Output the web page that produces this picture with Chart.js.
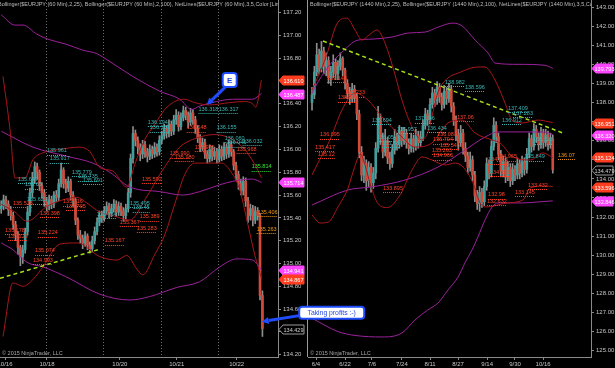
<!DOCTYPE html>
<html>
<head>
<meta charset="utf-8">
<title>EURJPY 60 Min / 1440 Min</title>
<script src="https://cdn.jsdelivr.net/npm/chart.js@4.4.1/dist/chart.umd.min.js"></script>
<style>
  html, body { margin: 0; padding: 0; background: #000; }
  #wrap { position: relative; width: 615px; height: 368px; overflow: hidden; }
  #wrap canvas { position: absolute; left: 0; top: 0; }
  #hourly { z-index: 2; }
  #daily { z-index: 1; }
</style>
</head>
<body>
<div id="wrap">
  <canvas id="daily" width="615" height="368"></canvas>
  <canvas id="hourly" width="615" height="368"></canvas>
</div>
<script>
// ---------- 60 min panel (left) ----------
const hOpen = [
  135.48,135.50,135.56,135.52,135.47,135.42,135.34,135.26,135.14,135.06,
  135.12,135.28,135.45,135.62,135.74,135.85,135.80,135.68,135.62,135.54,
  135.50,135.56,135.52,135.60,135.58,135.70,135.82,135.70,135.66,135.72,
  135.60,135.55,135.38,135.25,135.22,135.18,135.24,135.16,135.13,135.20,
  135.28,135.36,135.42,135.40,135.46,135.50,135.44,135.48,135.52,135.45,
  135.50,135.46,135.42,135.48,135.62,135.92,136.14,136.08,136.02,135.96,
  136.04,135.98,135.94,136.00,135.96,136.02,135.98,136.08,136.12,136.18,
  136.14,136.22,136.16,136.26,136.30,136.20,136.28,136.34,136.30,136.24,
  136.32,136.26,136.18,136.10,136.02,136.06,135.96,135.92,136.00,135.94,
  135.98,135.92,136.00,135.94,136.02,135.96,136.04,135.98,135.86,135.78,
  135.70,135.64,135.72,135.55,135.42,135.48,135.38,135.46,135.42,134.72
];
const hHigh = [
  135.55,135.60,135.59,135.55,135.50,135.45,135.37,135.28,135.16,135.16,
  135.31,135.50,135.66,135.80,135.89,135.88,135.82,135.71,135.65,135.58,
  135.60,135.59,135.63,135.64,135.74,135.88,135.84,135.74,135.76,135.74,
  135.63,135.57,135.40,135.29,135.25,135.28,135.26,135.19,135.24,135.32,
  135.40,135.46,135.46,135.50,135.54,135.53,135.52,135.56,135.55,135.54,
  135.53,135.49,135.52,135.66,135.96,136.20,136.17,136.11,136.05,136.08,
  136.07,136.01,136.04,136.03,136.06,136.05,136.12,136.16,136.22,136.21,
  136.26,136.25,136.30,136.35,136.33,136.32,136.38,136.37,136.33,136.36,
  136.35,136.29,136.21,136.13,136.10,136.09,135.99,136.04,136.03,136.02,
  136.01,136.04,136.03,136.06,136.05,136.08,136.07,136.00,135.89,135.81,
  135.74,135.76,135.75,135.58,135.52,135.51,135.50,135.49,135.44,134.76
];
const hLow = [
  135.44,135.47,135.48,135.42,135.38,135.30,135.20,135.08,134.98,135.00,
  135.09,135.25,135.42,135.58,135.70,135.74,135.64,135.57,135.50,135.46,
  135.47,135.48,135.49,135.54,135.55,135.67,135.66,135.62,135.63,135.56,
  135.50,135.34,135.21,135.18,135.13,135.15,135.12,135.09,135.10,135.17,
  135.25,135.33,135.36,135.37,135.43,135.40,135.41,135.45,135.41,135.42,
  135.42,135.37,135.39,135.45,135.58,135.88,136.03,135.96,135.90,135.92,
  135.93,135.89,135.91,135.92,135.93,135.94,135.95,136.05,136.09,136.10,
  136.11,136.12,136.13,136.22,136.16,136.17,136.25,136.26,136.19,136.21,
  136.22,136.14,136.06,135.98,135.99,135.92,135.88,135.89,135.90,135.91,
  135.88,135.89,135.90,135.91,135.92,135.93,135.94,135.82,135.73,135.65,
  135.60,135.60,135.50,135.36,135.38,135.33,135.35,135.38,134.68,134.36
];
const hClose = [
  135.50,135.56,135.52,135.47,135.42,135.34,135.26,135.14,135.06,135.12,
  135.28,135.45,135.62,135.74,135.85,135.80,135.68,135.62,135.54,135.50,
  135.56,135.52,135.60,135.58,135.70,135.82,135.70,135.66,135.72,135.60,
  135.55,135.38,135.25,135.22,135.18,135.24,135.16,135.13,135.20,135.28,
  135.36,135.42,135.40,135.46,135.50,135.44,135.48,135.52,135.45,135.50,
  135.46,135.42,135.48,135.62,135.92,136.14,136.08,136.02,135.96,136.04,
  135.98,135.94,136.00,135.96,136.02,135.98,136.08,136.12,136.18,136.14,
  136.22,136.16,136.26,136.30,136.20,136.28,136.34,136.30,136.24,136.32,
  136.26,136.18,136.10,136.02,136.06,135.96,135.92,136.00,135.94,135.98,
  135.92,136.00,135.94,136.02,135.96,136.04,135.98,135.86,135.78,135.70,
  135.64,135.72,135.55,135.42,135.48,135.38,135.46,135.42,134.72,134.43
];
const hDateLabels = ['10/16', '10/18', '10/20', '10/21', '10/22'];
const hDateSlots = [1.6, 19.1, 49.5, 73.25, 98.25];
const hSessionBreaks = [18.5, 42.5, 66.5, 90.5];
const hPriceTicks = [134.2, 134.4, 134.6, 134.8, 135.0, 135.2, 135.4, 135.6, 135.8,
  136.0, 136.2, 136.4, 136.6, 136.8, 137.0, 137.2];

const hBB25Upper = [[0.75,136.64],[3.7,136.17],[5.75,135.75],[9.9,135.75],[13.25,135.91],
  [17.4,135.97],[24.5,136.00],[32.8,136.02],[37,135.98],[41.2,135.84],[46.6,135.81],
  [52.4,135.67],[55.75,135.87],[60,136.09],[64.1,136.22],[68.25,136.35],[72.4,136.42],
  [76.6,136.44],[80.75,136.41],[87,136.39],[95.3,136.41],[101.6,136.42],[104.9,136.40],
  [106.2,136.37],[108.6,136.61]];
const hBB25Mid = [[0,135.52],[5.75,135.45],[10.75,135.37],[19.1,135.50],[24.5,135.55],
  [31.6,135.58],[35.75,135.53],[41.2,135.45],[46.6,135.42],[53.7,135.38],[60,135.56],
  [67.4,135.82],[74.5,136.02],[81.6,136.10],[89,136.13],[95.3,136.10],[101.6,136.00],
  [105.75,135.87],[108.6,135.75]];
const hBB25Lower = [[0.75,134.36],[4.9,134.83],[9.1,134.80],[13.25,134.86],[17.4,134.97],
  [24.5,135.17],[31.6,135.18],[41.2,135.06],[48.25,135.03],[52.4,135.07],[56.6,134.95],
  [59.1,134.90],[64.1,135.08],[68.25,135.25],[72.4,135.52],[76.6,135.78],[80.75,135.88],
  [92,135.88],[95.3,135.82],[99.5,135.65],[102,135.43],[105.75,135.08],[108.6,134.87]];
const hBB100Upper = [[0,137.18],[5.75,137.09],[9.1,137.09],[14.9,137.01],[19.1,136.97],
  [27.4,136.92],[34.1,136.87],[39.9,136.84],[42.4,136.81],[54.9,136.64],[66.2,136.51],
  [74.5,136.44],[79.5,136.35],[82.8,136.38],[89.9,136.42],[96.6,136.44],[104.9,136.44],
  [108.6,136.49]];
const hBB100Mid = [[0,136.16],[13.25,136.02],[27.4,135.94],[38.25,135.88],[45.3,135.80],
  [53.7,135.67],[66.2,135.63],[75.75,135.60],[82.8,135.63],[91.2,135.69],[96.6,135.72],
  [104.9,135.74],[108.6,135.71]];
const hBB100Lower = [[0,135.18],[4.9,135.12],[10.75,135.01],[17.4,134.97],[27.4,134.88],
  [41.2,134.73],[53.7,134.68],[62,134.71],[73.25,134.79],[82.8,134.84],[91.2,134.97],
  [98.25,135.04],[104.9,135.03],[107,134.99],[108.6,134.94]];
const hTrend = [[-0.5,134.87],[40.3,135.12]];

const hNetLabels = [
  ['135.961',19.1,135.99,'cyan'],['135.917',20.3,135.92,'cyan'],['135.779',29.5,135.80,'cyan'],
  ['135.735',32,135.76,'cyan'],['135.691',34.1,135.73,'cyan'],['135.649',7,135.74,'cyan'],
  ['135.65',9.9,135.69,'cyan'],['135.622',10.75,135.56,'cyan'],['136.194',61.2,136.24,'cyan'],
  ['136.159',62,136.19,'cyan'],['136.318',82.3,136.35,'cyan'],['136.317',90.75,136.35,'cyan'],
  ['136.155',89.9,136.19,'cyan'],['136.060',93.25,136.10,'cyan'],['136.045',94,136.06,'cyan'],
  ['136.032',100.75,136.07,'cyan'],['135.454',39.9,135.43,'cyan'],['135.495',53.7,135.53,'cyan'],
  ['135.45',54.9,135.49,'cyan'],
  ['135.518',4.9,135.53,'red'],['135.716',25.8,135.54,'red'],['135.705',27,135.50,'red'],
  ['135.398',16.2,135.44,'red'],['135.224',15.3,135.27,'red'],['135.074',14.1,135.11,'red'],
  ['134.993',13.25,135.03,'red'],['135.178',1.6,135.29,'red'],['135.129',2.8,135.24,'red'],
  ['135.167',43.25,135.20,'red'],['135.283',56.6,135.31,'red'],['135.389',57.8,135.41,'red'],
  ['135.367',49.5,135.36,'red'],['135.592',58.7,135.74,'red'],['135.990',70.3,135.96,'red'],
  ['135.980',72.4,135.93,'red'],['135.975',80.75,136.02,'red'],['136.148',77.4,136.19,'red'],
  ['135.968',98.25,136.00,'red'],
  ['135.814',104.5,135.85,'green'],
  ['135.406',107,135.45,'orange'],['135.263',106.6,135.30,'orange']
];
const hTags = [[136.610,'red'],[136.487,'mag'],[135.714,'mag'],[134.941,'mag'],[134.867,'red'],[134.429,'last']];
const hCallouts = [['E',85.75,136.39],['Taking profits :-)',108.7,134.49]];

// ---------- 1440 min panel (right) ----------
const dOpen = [
  138.0,138.4,139.6,140.5,139.8,140.7,139.9,140.2,139.3,139.6,
  140.1,139.5,139.9,140.3,139.7,139.0,138.5,138.2,138.7,138.3,
  137.4,135.4,134.2,134.8,133.9,134.6,133.8,134.3,135.6,137.2,
  136.1,135.4,136.0,135.1,134.8,135.5,136.2,135.8,136.5,136.0,
  136.4,135.9,135.6,136.1,135.7,136.3,135.9,136.2,136.8,137.4,
  137.1,137.9,138.5,138.1,138.8,138.3,137.9,138.6,138.2,138.7,
  137.8,137.1,136.3,135.9,136.4,135.6,135.2,134.6,135.0,134.2,
  133.1,132.7,133.3,132.8,133.6,134.8,134.3,135.7,136.8,136.2,
  135.3,134.4,134.9,134.1,134.6,133.9,134.5,134.2,134.8,134.3,
  134.9,134.5,135.3,136.1,135.7,136.6,136.2,135.8,136.4,135.9,
  136.3,135.8,136.1
];
const dHigh = [
  138.8,139.9,141.1,140.8,141.2,140.9,140.6,140.4,139.9,140.5,
  140.3,140.2,140.6,140.4,139.8,139.2,138.8,139.0,138.9,138.5,
  137.6,135.7,135.2,135.0,134.9,134.8,134.6,135.9,137.8,137.4,
  136.4,136.6,136.2,135.4,135.8,136.6,136.4,136.8,136.7,136.7,
  136.6,136.1,136.4,136.3,136.6,136.5,136.5,137.1,137.7,137.6,
  138.2,138.8,138.7,139.1,139.0,138.5,138.9,138.8,139.0,138.9,
  138.0,137.3,136.6,136.8,136.6,135.9,135.4,135.4,135.2,134.4,
  133.4,133.6,133.5,133.9,135.1,135.0,136.0,137.2,137.0,136.4,
  135.5,135.2,135.1,134.9,134.8,134.8,134.7,135.1,135.0,135.2,
  135.1,135.6,136.4,136.3,136.9,136.8,136.4,136.7,136.6,136.6,
  136.5,136.4,136.3
];
const dLow = [
  137.6,138.2,139.4,139.5,139.6,139.5,139.4,139.0,138.9,139.3,
  139.2,139.2,139.7,139.4,138.7,138.2,137.9,138.0,138.0,137.1,
  135.1,133.9,133.8,133.4,133.6,133.3,133.5,134.0,135.4,135.8,
  135.1,135.2,134.8,134.5,134.6,135.3,135.5,135.6,135.7,135.8,
  135.6,135.3,135.4,135.4,135.5,135.6,135.7,136.0,136.6,136.8,
  136.9,137.7,137.8,137.9,138.0,137.6,137.7,137.9,138.0,137.5,
  136.8,136.0,135.5,135.7,135.3,134.9,134.3,134.4,133.9,132.8,
  132.4,132.3,132.5,132.6,133.4,134.0,134.1,135.5,135.9,135.0,
  134.1,134.1,133.8,133.9,133.6,133.7,133.9,134.0,134.0,134.1,
  134.2,134.3,135.1,135.4,135.5,135.9,135.5,135.6,135.6,135.7,
  135.5,135.6,134.3
];
const dClose = [
  138.4,139.6,140.5,139.8,140.7,139.9,140.2,139.3,139.6,140.1,
  139.5,139.9,140.3,139.7,139.0,138.5,138.2,138.7,138.3,137.4,
  135.4,134.2,134.8,133.9,134.6,133.8,134.3,135.6,137.2,136.1,
  135.4,136.0,135.1,134.8,135.5,136.2,135.8,136.5,136.0,136.4,
  135.9,135.6,136.1,135.7,136.3,135.9,136.2,136.8,137.4,137.1,
  137.9,138.5,138.1,138.8,138.3,137.9,138.6,138.2,138.7,137.8,
  137.1,136.3,135.9,136.4,135.6,135.2,134.6,135.0,134.2,133.1,
  132.7,133.3,132.8,133.6,134.8,134.3,135.7,136.8,136.2,135.3,
  134.4,134.9,134.1,134.6,133.9,134.5,134.2,134.8,134.3,134.9,
  134.5,135.3,136.1,135.7,136.6,136.2,135.8,136.4,135.9,136.3,
  135.8,136.1,134.48
];
const dDateLabels = ['6/4', '6/22', '7/6', '7/24', '8/11', '8/27', '9/14', '9/30', '10/16'];
const dDateSlots = [1.7, 14, 25.4, 38.1, 50, 61.9, 74.2, 86, 97.9];
const dPriceTicks = [125, 126, 127, 128, 129, 130, 131, 132, 133, 134, 135, 136, 137, 138, 139, 140, 141, 142, 143];

const dBB25Upper = [[0,138.65],[5.5,140.23],[11,142.21],[14.8,142.42],[18.2,141.80],[21.2,141.27],
  [24.1,141.53],[27.5,141.80],[30.9,141.12],[35.2,139.44],[38.1,138.13],[42.4,136.72],[46.6,136.04],
  [49.1,136.46],[53.4,138.55],[57.6,139.28],[61.9,139.54],[70.3,139.86],[73.3,139.86],[77.5,139.18],
  [81.8,137.97],[84.7,137.08],[89,136.93],[95.8,137.08],[100,137.0],[102,136.95]];
const dBB25Mid = [[0,134.20],[2.5,134.83],[7.6,136.04],[12.7,137.61],[18.2,138.50],[23.7,138.13],
  [29.7,137.24],[38.1,136.19],[43.6,135.67],[50.8,135.88],[57.6,136.93],[63.6,137.08],[69.1,136.40],
  [76.3,136.04],[79.7,135.88],[85.2,135.15],[92.5,134.99],[97.8,135.36],[102,135.12]];
const dBB25Lower = [[0,132.11],[3.4,131.69],[6.9,131.74],[11,132.53],[15.2,133.5],[18,134.6],
  [20.5,135.3],[22.5,134.7],[25,133.6],[28,132.7],[32,132.5],[37.3,133.16],[42.4,134.47],
  [46.6,135.15],[50.8,134.99],[56.4,134.73],[60.6,134.83],[64,134.62],[68.2,133.79],[71.2,132.74],
  [74.1,132.53],[82.6,132.74],[89.4,132.90],[92.4,133.52],[98.7,133.63],[102,133.60]];
const dBB100Upper = [[0,138.5],[1.3,138.81],[6.8,139.86],[12.3,140.59],[19.5,141.27],[25.4,141.32],
  [33.9,141.43],[40.7,141.64],[47.9,141.69],[53.4,141.95],[59.7,142.16],[63.6,142.01],[69.1,141.27],
  [74.6,140.59],[77.5,140.07],[87.3,140.0],[98.7,139.95],[102,139.79]];
const dBB100Mid = [[0,132.63],[15.2,133.42],[25.4,133.58],[39.4,133.94],[53.4,134.62],[64.8,135.51],
  [73.3,136.19],[78.8,136.46],[90.2,136.46],[98.7,136.45],[102,136.32]];
const dBB100Lower = [[0,126.7],[11,126.0],[18.2,125.8],[29.7,125.72],[38.1,125.93],[43.6,126.61],
  [49.1,127.14],[53.4,127.5],[57.6,128.18],[61.9,128.86],[64.8,129.6],[67.8,130.28],[70.3,130.96],
  [73.3,131.85],[76.3,132.53],[78.8,132.74],[89,132.74],[95.8,132.79],[102,132.85]];
const dTrend = [[4.66,141.22],[106.35,136.40]];

const dNetLabels = [
  ['139.148',6.35,139.28,'red'],['138.233',14,138.50,'red'],['138.205',11,138.24,'red'],
  ['136.095',3.4,136.30,'red'],['135.417',1.3,135.67,'red'],['135.12',2.5,135.30,'red'],
  ['137.06',61.4,137.24,'red'],['136.083',53,136.30,'red'],['135.794',51.3,136.04,'red'],
  ['135.546',54.2,135.77,'red'],['135.263',50.8,135.51,'red'],['134.966',51.3,135.20,'red'],
  ['134.946',74.6,134.99,'red'],['134.965',78.4,135.15,'red'],['134.115',75.4,134.36,'red'],
  ['132.98',74.6,133.16,'red'],['132.632',74.1,132.84,'red'],['133.145',86,133.31,'red'],
  ['133.432',91.5,133.68,'red'],['133.895',30.1,133.52,'red'],
  ['135.694',25.4,137.08,'cyan'],['136.05',27.5,136.19,'cyan'],['135.66',29.7,135.88,'cyan'],
  ['135.957',36,136.61,'cyan'],['137.346',43.6,137.14,'cyan'],['136.434',48.7,136.66,'cyan'],
  ['138.982',56.35,139.07,'cyan'],['138.596',64.8,138.81,'cyan'],['137.409',83,137.71,'cyan'],
  ['137.283',85.2,137.45,'cyan'],['136.912',80.5,137.08,'cyan'],['136.126',93.6,136.04,'cyan'],
  ['135.849',90.2,135.15,'cyan'],
  ['136.07',104.2,135.25,'orange']
];
const dTags = [[139.793,'mag'],[136.951,'red'],[136.320,'mag'],[135.124,'red'],[134.479,'last'],[133.596,'red'],[132.846,'mag']];

// ---------- look ----------
const FONT = 'Liberation Sans, Arial, sans-serif';
Chart.defaults.font.family = FONT;
Chart.defaults.font.size = 6;

const C = {
  up: '#3f9f9c', down: '#d24b3a', wick: '#8e8e8e',
  bb25: '#a8161a', bb100: '#9c229c', trend: '#a6df1a',
  axis: '#8a8a8a', text: '#c6c6c6', title: '#bdbdbd',
  blue: '#1f4cff'
};
const NET_COLOR = { cyan: '#3cb5b5', red: '#ff4227', green: '#34e834', orange: '#f29a12' };
const TAG_STYLE = {
  red: { fill: '#ff3d1f', stroke: '#ff3d1f', text: '#ffffff' },
  mag: { fill: '#ff45ff', stroke: '#ff45ff', text: '#ffffff' },
  last: { fill: '#000000', stroke: '#9a9a9a', text: '#d2d2d2' }
};
const CALLOUT_STYLE = [
  { dx: 23, dy: -25, font: 'bold 8px ' + FONT, w: 14, h: 14, ax: 0.2, ay: 1 },
  { dx: 70, dy: -9, font: '6.8px ' + FONT, w: 65, h: 12, ax: 0, ay: 0.75 }
];

function candleSets(o, h, l, c) {
  return [
    { type: 'bar', order: 5, grouped: false, barThickness: 2, minBarLength: 1,
      data: c.map((v, i) => ({ x: i, y: [o[i], v] })),
      backgroundColor: c.map((v, i) => (v >= o[i] ? C.up : C.down)) },
    { type: 'bar', order: 6, grouped: false, barThickness: 1,
      data: c.map((v, i) => ({ x: i, y: [l[i], h[i]] })),
      backgroundColor: C.wick }
  ];
}

function lineSet(points, color, order, extra) {
  return Object.assign({
    type: 'line', order, data: points.map(p => ({ x: p[0], y: p[1] })),
    borderColor: color, borderWidth: 1, pointRadius: 0, fill: false,
    cubicInterpolationMode: 'monotone'
  }, extra || {});
}

function roundRect(ctx, x, y, w, h, r) {
  ctx.beginPath();
  ctx.moveTo(x + r, y);
  ctx.lineTo(x + w - r, y); ctx.quadraticCurveTo(x + w, y, x + w, y + r);
  ctx.lineTo(x + w, y + h - r); ctx.quadraticCurveTo(x + w, y + h, x + w - r, y + h);
  ctx.lineTo(x + r, y + h); ctx.quadraticCurveTo(x, y + h, x, y + h - r);
  ctx.lineTo(x, y + r); ctx.quadraticCurveTo(x, y, x + r, y);
  ctx.closePath();
}

function panelPlugin(p) {
  return {
    id: 'panel',
    beforeDatasetsDraw(chart) {
      const { ctx, chartArea: a, scales: { x } } = chart;
      ctx.save();
      ctx.strokeStyle = '#6c6c6c';
      ctx.lineWidth = 1;
      ctx.setLineDash([1, 2]);
      (p.breaks || []).forEach(s => {
        const px = Math.round(x.getPixelForValue(s)) + 0.5;
        ctx.beginPath(); ctx.moveTo(px, a.top); ctx.lineTo(px, a.bottom); ctx.stroke();
      });
      ctx.restore();
    },
    afterDatasetsDraw(chart) {
      const { ctx, chartArea: a, scales: { x, y } } = chart;
      ctx.save();
      ctx.beginPath(); ctx.rect(a.left, a.top, a.right - a.left, a.bottom - a.top); ctx.clip();
      ctx.font = '5.5px ' + FONT;
      ctx.textBaseline = 'middle';
      ctx.lineWidth = 1;
      p.net.forEach(([text, slot, price, kind]) => {
        const px = x.getPixelForValue(slot), py = y.getPixelForValue(price);
        const w = ctx.measureText(text).width;
        ctx.fillStyle = NET_COLOR[kind];
        ctx.fillText(text, px, py);
        ctx.strokeStyle = NET_COLOR[kind];
        ctx.setLineDash([1, 1]);
        const uy = Math.round(py + 4) + 0.5;
        ctx.beginPath(); ctx.moveTo(px, uy); ctx.lineTo(px + w, uy); ctx.stroke();
      });
      ctx.restore();
    },
    afterDraw(chart) {
      const { ctx, chartArea: a, scales: { x, y } } = chart;
      ctx.save();
      // title + copyright
      ctx.save();
      ctx.beginPath(); ctx.rect(a.left, 0, a.right - a.left, a.bottom); ctx.clip();
      ctx.font = '5.5px ' + FONT;
      ctx.textBaseline = 'middle';
      ctx.fillStyle = C.title;
      ctx.fillText(p.title, a.left + p.titleX, 4.5);
      ctx.fillStyle = '#a8a8a8';
      ctx.fillText('\u00A9 2015 NinjaTrader, LLC', a.left + 2, a.bottom - 4);
      ctx.restore();
      // panel border on the left
      if (p.leftBorder) {
        ctx.strokeStyle = '#9a9a9a'; ctx.lineWidth = 1;
        ctx.beginPath(); ctx.moveTo(a.left - 0.5, 0); ctx.lineTo(a.left - 0.5, a.bottom); ctx.stroke();
      }
      // price tags on the axis
      ctx.font = '5.5px ' + FONT;
      ctx.textAlign = 'center';
      ctx.textBaseline = 'middle';
      p.tags.forEach(([value, kind]) => {
        const st = TAG_STYLE[kind];
        const ty = Math.round(y.getPixelForValue(value)) + 0.5;
        const x0 = y.left + 1, x1 = y.right - 2, hh = 4.5;
        ctx.beginPath();
        ctx.moveTo(x0, ty); ctx.lineTo(x0 + 4, ty - hh); ctx.lineTo(x1, ty - hh);
        ctx.lineTo(x1, ty + hh); ctx.lineTo(x0 + 4, ty + hh); ctx.closePath();
        ctx.fillStyle = st.fill; ctx.fill();
        ctx.strokeStyle = st.stroke; ctx.lineWidth = 1; ctx.stroke();
        ctx.fillStyle = st.text;
        ctx.fillText(value.toFixed(3), (x0 + 4 + x1) / 2, ty + 0.5);
      });
      // callouts
      (p.callouts || []).forEach(([text, slot, price], i) => {
        const st = CALLOUT_STYLE[i];
        const tx = x.getPixelForValue(slot), ty = y.getPixelForValue(price);
        ctx.font = st.font;
        const bw = st.w, bh = st.h;
        const cx = tx + st.dx, cy = ty + st.dy;
        const bx = cx - bw / 2, by = cy - bh / 2;
        const sx = bx + st.ax * bw, sy = by + st.ay * bh;
        const ang = Math.atan2(ty - sy, tx - sx);
        const hl = 7, hw = 3.5;
        const ex = tx - hl * Math.cos(ang), ey = ty - hl * Math.sin(ang);
        ctx.strokeStyle = C.blue; ctx.fillStyle = C.blue; ctx.lineWidth = 3;
        ctx.beginPath(); ctx.moveTo(sx, sy); ctx.lineTo(ex, ey); ctx.stroke();
        ctx.beginPath();
        ctx.moveTo(tx, ty);
        ctx.lineTo(ex + hw * Math.sin(ang), ey - hw * Math.cos(ang));
        ctx.lineTo(ex - hw * Math.sin(ang), ey + hw * Math.cos(ang));
        ctx.closePath(); ctx.fill();
        roundRect(ctx, bx, by, bw, bh, 3);
        ctx.fillStyle = '#ffffff'; ctx.fill();
        ctx.lineWidth = 2; ctx.strokeStyle = C.blue; ctx.stroke();
        ctx.fillStyle = '#2346e0';
        ctx.textAlign = 'center'; ctx.textBaseline = 'middle';
        ctx.fillText(text, cx, cy + 0.5);
      });
      ctx.restore();
    }
  };
}

function axes(xr, yr, yWidth, dateSlots, dateLabels, priceTicks, decimals) {
  return {
    x: {
      type: 'linear', min: xr[0], max: xr[1], offset: false,
      afterBuildTicks: s => { s.ticks = dateSlots.map(v => ({ value: v })); },
      afterFit: s => { s.height = 11; s.paddingLeft = 0; s.paddingRight = 0; },
      ticks: { color: C.text, font: { size: 6 }, padding: 1, maxRotation: 0, autoSkip: false,
        callback: (v, i) => dateLabels[i] },
      grid: { drawOnChartArea: false, offset: false, tickLength: 3, color: C.axis, tickColor: C.axis },
      border: { color: C.axis, width: 1 }
    },
    y: {
      type: 'linear', position: 'right', min: yr[0], max: yr[1], beginAtZero: false,
      afterBuildTicks: s => { s.ticks = priceTicks.map(v => ({ value: v })); },
      afterFit: s => { s.width = yWidth; s.paddingTop = 0; s.paddingBottom = 0; },
      ticks: { color: C.text, font: { size: 6 }, padding: 2, autoSkip: false,
        callback: v => Number(v).toFixed(decimals) },
      grid: { drawOnChartArea: false, tickLength: 3, color: C.axis, tickColor: C.axis },
      border: { color: C.axis, width: 1 }
    }
  };
}

const common = {
  responsive: false, animation: false, devicePixelRatio: 1, events: [],
  plugins: { legend: { display: false }, tooltip: { enabled: false } }
};

new Chart(document.getElementById('hourly'), {
  type: 'bar',
  data: {
    datasets: [
      lineSet(hTrend, C.trend, 0, { borderWidth: 1.5, borderDash: [4, 3], cubicInterpolationMode: 'default', tension: 0 }),
      lineSet(hBB25Upper, C.bb25, 1), lineSet(hBB25Mid, C.bb25, 1), lineSet(hBB25Lower, C.bb25, 1),
      lineSet(hBB100Upper, C.bb100, 2), lineSet(hBB100Mid, C.bb100, 2), lineSet(hBB100Lower, C.bb100, 2),
      ...candleSets(hOpen, hHigh, hLow, hClose)
    ]
  },
  options: Object.assign({}, common, {
    layout: { padding: { left: 0, right: 309, top: 0, bottom: 0 } },
    scales: axes([-0.5, 115.5], [134.18, 137.31], 28, hDateSlots, hDateLabels, hPriceTicks, 2)
  }),
  plugins: [panelPlugin({
    title: 'Bollinger($EURJPY (60 Min),2,25), Bollinger($EURJPY (60 Min),2,100), NetLines($EURJPY (60 Min),3,5,Color [Lime],',
    titleX: -2, breaks: hSessionBreaks, net: hNetLabels, tags: hTags, callouts: hCallouts
  })]
});

new Chart(document.getElementById('daily'), {
  type: 'bar',
  data: {
    datasets: [
      lineSet(dTrend, C.trend, 0, { borderWidth: 1.5, borderDash: [4, 3], cubicInterpolationMode: 'default', tension: 0 }),
      lineSet(dBB25Upper, C.bb25, 1), lineSet(dBB25Mid, C.bb25, 1), lineSet(dBB25Lower, C.bb25, 1),
      lineSet(dBB100Upper, C.bb100, 2), lineSet(dBB100Mid, C.bb100, 2), lineSet(dBB100Lower, C.bb100, 2),
      ...candleSets(dOpen, dHigh, dLow, dClose)
    ]
  },
  options: Object.assign({}, common, {
    layout: { padding: { left: 308, right: 0, top: 0, bottom: 0 } },
    scales: axes([-1.7, 118.2], [124.67, 143.37], 24, dDateSlots, dDateLabels, dPriceTicks, 2)
  }),
  plugins: [panelPlugin({
    title: 'Bollinger($EURJPY (1440 Min),2,25), Bollinger($EURJPY (1440 Min),2,100), NetLines($EURJPY (1440 Min),3,5,Color',
    titleX: 2, breaks: [], net: dNetLabels, tags: dTags, leftBorder: true
  })]
});
</script>
</body>
</html>
